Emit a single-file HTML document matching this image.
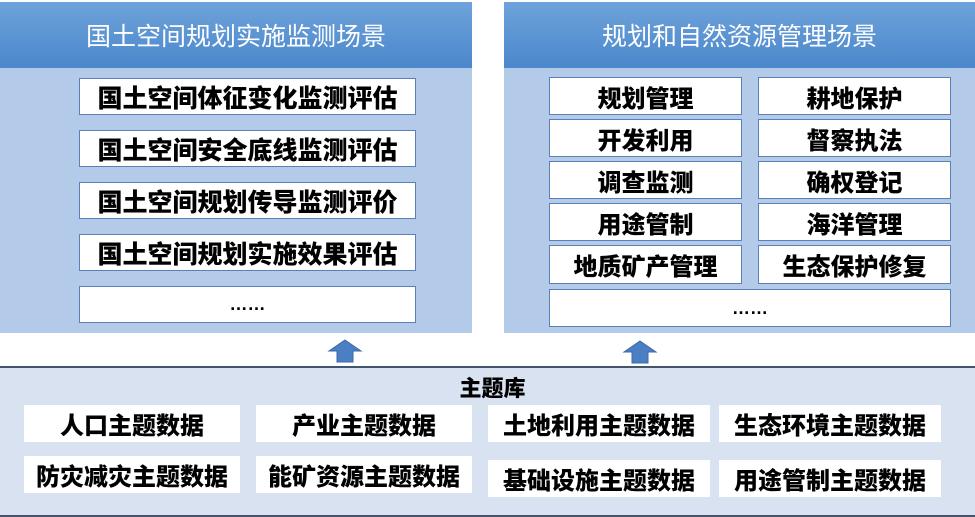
<!DOCTYPE html>
<html><head><meta charset="utf-8"><style>
body{margin:0;width:975px;height:517px;background:#fff;position:relative;overflow:hidden;font-family:"Liberation Sans","Noto Sans CJK SC",sans-serif}
.p{position:absolute;background:#b3cbe8}
.h{position:absolute;left:0;right:0;top:0;height:66px;background:linear-gradient(#6ea3da,#4b87cc);color:#fff;font-size:25px;display:flex;align-items:center;justify-content:center}
.b{position:absolute;background:#fff;border:1.5px solid #5c7fb8;box-sizing:border-box;display:flex;align-items:center;justify-content:center;font-weight:900;color:#000}
.l{font-size:25px}
.r{font-size:24px}
.g{position:absolute;background:#fff;display:flex;align-items:center;justify-content:center;font-weight:900;color:#000;font-size:24px}
</style></head><body>
<div class="p" style="left:0;top:2px;width:472px;height:331px">
<div class="h">国土空间规划实施监测场景</div></div>
<div class="b l" style="left:79px;top:78px;width:337px;height:37px">国土空间体征变化监测评估</div>
<div class="b l" style="left:79px;top:130px;width:337px;height:37px">国土空间安全底线监测评估</div>
<div class="b l" style="left:79px;top:182px;width:337px;height:37px">国土空间规划传导监测评价</div>
<div class="b l" style="left:79px;top:234px;width:337px;height:37px">国土空间规划实施效果评估</div>
<div class="b" style="left:79px;top:286px;width:337px;height:37px;font-size:18px">……</div>

<div class="p" style="left:504px;top:2px;width:471px;height:331px">
<div class="h">规划和自然资源管理场景</div></div>
<div class="b r" style="left:549px;top:77px;width:193px;height:38px">规划管理</div>
<div class="b r" style="left:758px;top:77px;width:193px;height:38px">耕地保护</div>
<div class="b r" style="left:549px;top:119px;width:193px;height:38px">开发利用</div>
<div class="b r" style="left:758px;top:119px;width:193px;height:38px">督察执法</div>
<div class="b r" style="left:549px;top:161px;width:193px;height:38px">调查监测</div>
<div class="b r" style="left:758px;top:161px;width:193px;height:38px">确权登记</div>
<div class="b r" style="left:549px;top:203px;width:193px;height:38px">用途管制</div>
<div class="b r" style="left:758px;top:203px;width:193px;height:38px">海洋管理</div>
<div class="b r" style="left:549px;top:245px;width:193px;height:39px">地质矿产管理</div>
<div class="b r" style="left:758px;top:245px;width:193px;height:39px">生态保护修复</div>
<div class="b" style="left:549px;top:289px;width:402px;height:38px;font-size:18px">……</div>

<svg style="position:absolute;left:0;top:0" width="975" height="517">
<polygon points="345,340 361,351 353,351 353,362 337,362 337,351 329,351" fill="#4a7fc4" stroke="#3d6aa8"/>
<polygon points="640,341 656,352 648,352 648,363 632,363 632,352 624,352" fill="#4a7fc4" stroke="#3d6aa8"/>
</svg>

<div style="position:absolute;left:0;top:366px;width:975px;height:151px;background:#d9e2f1;border-top:2px solid #44546a;border-bottom:2px solid #44546a;box-sizing:border-box"></div>
<div style="position:absolute;left:0;top:371px;width:975px;text-align:center;font-weight:900;font-size:22px;color:#000;padding-left:10px;box-sizing:border-box">主题库</div>
<div class="g" style="left:24px;top:405px;width:216px;height:37px">人口主题数据</div>
<div class="g" style="left:256px;top:405px;width:216px;height:37px">产业主题数据</div>
<div class="g" style="left:488px;top:405px;width:222px;height:37px">土地利用主题数据</div>
<div class="g" style="left:719px;top:405px;width:222px;height:37px">生态环境主题数据</div>
<div class="g" style="left:24px;top:456px;width:216px;height:37px">防灾减灾主题数据</div>
<div class="g" style="left:256px;top:456px;width:216px;height:37px">能矿资源主题数据</div>
<div class="g" style="left:488px;top:460px;width:222px;height:37px">基础设施主题数据</div>
<div class="g" style="left:719px;top:460px;width:222px;height:37px">用途管制主题数据</div>
</body></html>
